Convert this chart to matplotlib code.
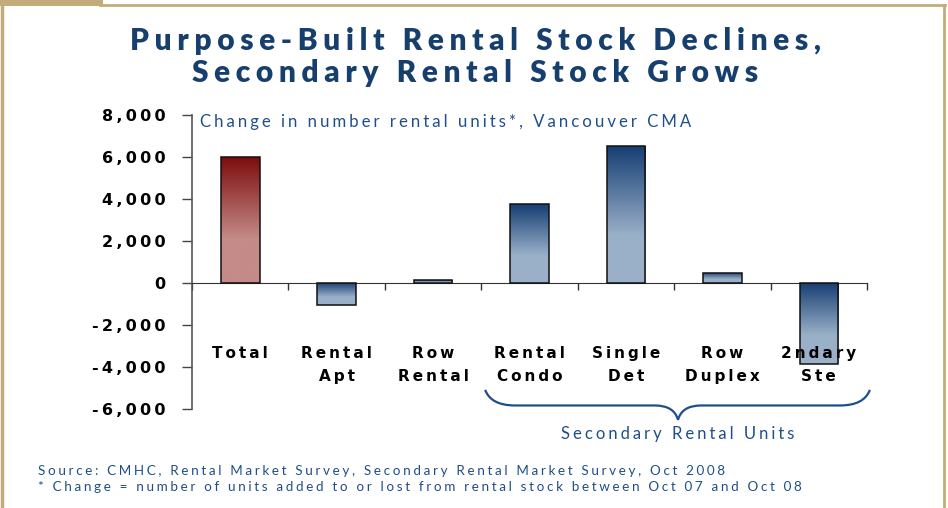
import numpy as np
import matplotlib
matplotlib.use("Agg")
import matplotlib.pyplot as plt
import matplotlib.transforms as mtransforms
from matplotlib.colors import LinearSegmentedColormap
from matplotlib.path import Path
from matplotlib.patches import PathPatch, Rectangle
from matplotlib.lines import Line2D

# data
categories = ["Total", "Rental\nApt", "Row\nRental", "Rental\nCondo",
              "Single\nDet", "Row\nDuplex", "2ndary\nSte"]
changes = [6000, -1050, 140, 3760, 6520, 480, -3860]
y_ticks = [-6000, -4000, -2000, 0, 2000, 4000, 6000, 8000]
bar_kind = ["total", "stock", "stock", "stock", "stock", "stock", "stock"]

title = "Purpose-Built Rental Stock Declines,\nSecondary Rental Stock Grows"
subtitle = "Change in number rental units*, Vancouver CMA"
brace_label = "Secondary Rental Units"
notes = ("Source: CMHC, Rental Market Survey, Secondary Rental Market Survey, Oct 2008\n"
         "* Change = number of units added to or lost from rental stock between Oct 07 and Oct 08")

NAVY = "#173f6e"
GOLD = "#c2ad7a"
HS = "\u200a"

plt.rcParams["font.family"] = ["Lato", "DejaVu Sans"]


def spread(s, n=1):
    # fake letter spacing with hair spaces
    return "\n".join((HS * n).join(line) for line in s.split("\n"))


red_cmap = LinearSegmentedColormap.from_list(
    "red", [(0, "#7d0d0d"), (0.65, "#c48b88"), (1, "#c48b88")])
blue_cmap = LinearSegmentedColormap.from_list(
    "blue", [(0, "#163e73"), (0.65, "#9ab0c8"), (1, "#9ab0c8")])

W, H = 948, 508
fig = plt.figure(figsize=(W / 100, H / 100), dpi=100)

# frame
fig.patches.append(Rectangle((0, 1 - 6 / H), 103 / W, 6 / H, transform=fig.transFigure,
                             facecolor=GOLD, edgecolor="none"))
fig.lines.append(Line2D([100 / W, 945 / W], [1 - 5 / H, 1 - 5 / H], transform=fig.transFigure,
                        color=GOLD, lw=2))
fig.lines.append(Line2D([944 / W, 944 / W], [1 - 5 / H, 0], transform=fig.transFigure,
                        color=GOLD, lw=2))
fig.lines.append(Line2D([2 / W, 2 / W], [1 - 6 / H, 0], transform=fig.transFigure,
                        color=GOLD, lw=2.5))

ax = fig.add_axes([192 / W, 1 - 409 / H, 675 / W, 294 / H])
x = np.arange(len(categories))

bars = ax.bar(x, changes, width=0.4, facecolor="none", edgecolor="#111111",
              linewidth=1.1, zorder=4)
grad = np.linspace(0, 1, 256).reshape(-1, 1)
for b, kind in zip(bars, bar_kind):
    x0, w = b.get_x(), b.get_width()
    y0, h = b.get_y(), b.get_height()
    lo, hi = min(y0, y0 + h), max(y0, y0 + h)
    cmap = red_cmap if kind == "total" else blue_cmap
    im = ax.imshow(grad, cmap=cmap, extent=[x0, x0 + w, lo, hi], origin="upper",
                   aspect="auto", zorder=2, vmin=0, vmax=1)
    im.set_clip_path(b)

ax.set_xlim(-0.5, len(categories) - 0.5)
ax.set_ylim(y_ticks[0], y_ticks[-1])

for s in ["top", "right"]:
    ax.spines[s].set_visible(False)
ax.spines["bottom"].set_position(("data", 0))
ax.spines["bottom"].set_color("#333333")
ax.spines["left"].set_color("#555555")
ax.spines["left"].set_linewidth(1.2)

ax.set_xticks(np.arange(-0.5, len(categories), 1))
ax.set_xticklabels([])
ax.tick_params(axis="x", length=5, width=1, color="#333333", direction="out")

ax.set_yticks(y_ticks)
ax.set_yticklabels([spread(f"{v:,}", 2) for v in y_ticks], family="DejaVu Sans",
                   fontweight="bold", fontsize=11.5)
ax.tick_params(axis="y", length=7, width=1, color="#444444", pad=12)

lab_tr = mtransforms.blended_transform_factory(ax.transData, ax.transAxes)
for i, cat in enumerate(categories):
    ax.text(i, 0.215, spread(cat, 2), transform=lab_tr, ha="center", va="top",
            family="DejaVu Sans", fontweight="bold", fontsize=11, linespacing=1.65,
            zorder=3)

# brace under the secondary units
verts = [(2.54, 0.065), (2.60, 0.012), (2.85, 0.012),
         (4.30, 0.012),
         (4.50, 0.012), (4.54, -0.037),
         (4.58, 0.012), (4.78, 0.012),
         (6.22, 0.012),
         (6.47, 0.012), (6.53, 0.065)]
codes = [Path.MOVETO, Path.CURVE3, Path.CURVE3, Path.LINETO,
         Path.CURVE3, Path.CURVE3, Path.CURVE3, Path.CURVE3,
         Path.LINETO, Path.CURVE3, Path.CURVE3]
ax.add_patch(PathPatch(Path(verts, codes), transform=lab_tr, facecolor="none",
                       edgecolor="#1f4f8a", lw=1.6, clip_on=False))
ax.text(4.54, -0.085, spread(brace_label, 3), transform=lab_tr, ha="center", va="center",
        color="#1f4f8a", fontsize=12)

fig.text(475 / W, 1 - 57 / H, spread(title, 3), ha="center", va="center", color=NAVY,
         fontsize=21.5, fontweight="heavy", linespacing=1.2)
fig.text(200 / W, 1 - 122 / H, spread(subtitle, 3), ha="left", va="center",
         color="#1f4f8a", fontsize=12.1)
fig.text(38 / W, 1 - 479 / H, spread(notes, 3), ha="left", va="center",
         color="#1f4f8a", fontsize=9.7, linespacing=1.35)

fig.savefig("out.png", dpi=100)
